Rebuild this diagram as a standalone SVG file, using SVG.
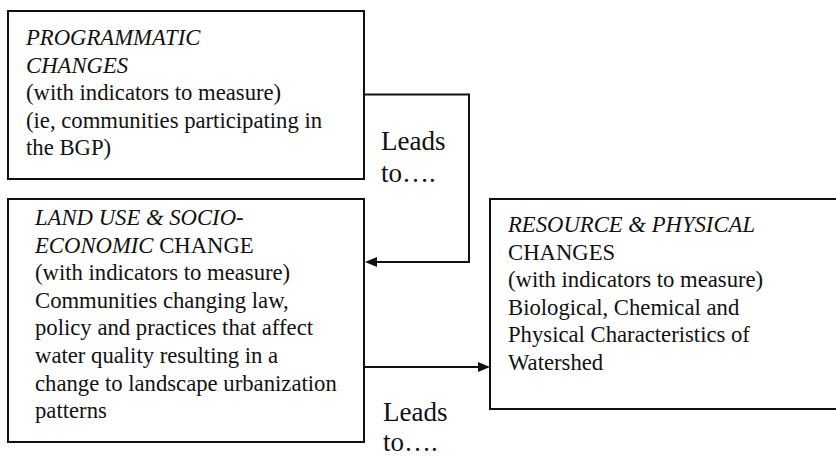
<svg xmlns="http://www.w3.org/2000/svg" width="836" height="456" viewBox="0 0 836 456">
<rect width="836" height="456" fill="#fff"/>
<g id="node-programmatic">
<rect x="8" y="11" width="356" height="168" fill="#fff" stroke="#111" stroke-width="2"/>
<text x="26" y="45" font-family="Liberation Serif" font-size="22.7" fill="#111" font-style="italic">PROGRAMMATIC</text>
<text x="26" y="72.6" font-family="Liberation Serif" font-size="22.7" fill="#111" font-style="italic">CHANGES</text>
<text x="26" y="100.2" font-family="Liberation Serif" font-size="22.7" fill="#111">(with indicators to measure)</text>
<text x="26" y="127.8" font-family="Liberation Serif" font-size="22.7" fill="#111">(ie, communities participating in</text>
<text x="26" y="155.4" font-family="Liberation Serif" font-size="22.7" fill="#111">the BGP)</text>
</g>
<g id="node-landuse">
<rect x="8" y="199" width="356" height="243" fill="#fff" stroke="#111" stroke-width="2"/>
<text x="35" y="225" font-family="Liberation Serif" font-size="22.7" fill="#111" font-style="italic">LAND USE &amp; SOCIO-</text>
<text x="35" y="252.6" font-family="Liberation Serif" font-size="22.7" fill="#111"><tspan font-style="italic">ECONOMIC</tspan> CHANGE</text>
<text x="35" y="280.2" font-family="Liberation Serif" font-size="22.7" fill="#111">(with indicators to measure)</text>
<text x="35" y="307.8" font-family="Liberation Serif" font-size="22.7" fill="#111">Communities changing law,</text>
<text x="35" y="335.4" font-family="Liberation Serif" font-size="22.7" fill="#111">policy and practices that affect</text>
<text x="35" y="363" font-family="Liberation Serif" font-size="22.7" fill="#111">water quality resulting in a</text>
<text x="35" y="390.6" font-family="Liberation Serif" font-size="22.7" fill="#111">change to landscape urbanization</text>
<text x="35" y="418.2" font-family="Liberation Serif" font-size="22.7" fill="#111">patterns</text>
</g>
<g id="node-resource">
<rect x="490" y="199" width="360" height="210" fill="#fff" stroke="#111" stroke-width="2"/>
<text x="508" y="232" font-family="Liberation Serif" font-size="22.7" fill="#111" font-style="italic">RESOURCE &amp; PHYSICAL</text>
<text x="508" y="259.6" font-family="Liberation Serif" font-size="22.7" fill="#111">CHANGES</text>
<text x="508" y="287.2" font-family="Liberation Serif" font-size="22.7" fill="#111">(with indicators to measure)</text>
<text x="508" y="314.8" font-family="Liberation Serif" font-size="22.7" fill="#111">Biological, Chemical and</text>
<text x="508" y="342.4" font-family="Liberation Serif" font-size="22.7" fill="#111">Physical Characteristics of</text>
<text x="508" y="370" font-family="Liberation Serif" font-size="22.7" fill="#111">Watershed</text>
</g>
<g id="connectors">
<path d="M364,94.5 H469 V262 H376" fill="none" stroke="#111" stroke-width="2"/>
<polygon points="365,262 377,257 377,267" fill="#111"/>
<path d="M364,367 H479" fill="none" stroke="#111" stroke-width="2"/>
<polygon points="490,367 478,362 478,372" fill="#111"/>
<text x="381" y="150" font-family="Liberation Serif" font-size="27" fill="#111">Leads</text>
<text x="381" y="182" font-family="Liberation Serif" font-size="27" fill="#111">to….</text>
<text x="383" y="421" font-family="Liberation Serif" font-size="27" fill="#111">Leads</text>
<text x="383" y="451" font-family="Liberation Serif" font-size="27" fill="#111">to….</text>
</g>
</svg>
